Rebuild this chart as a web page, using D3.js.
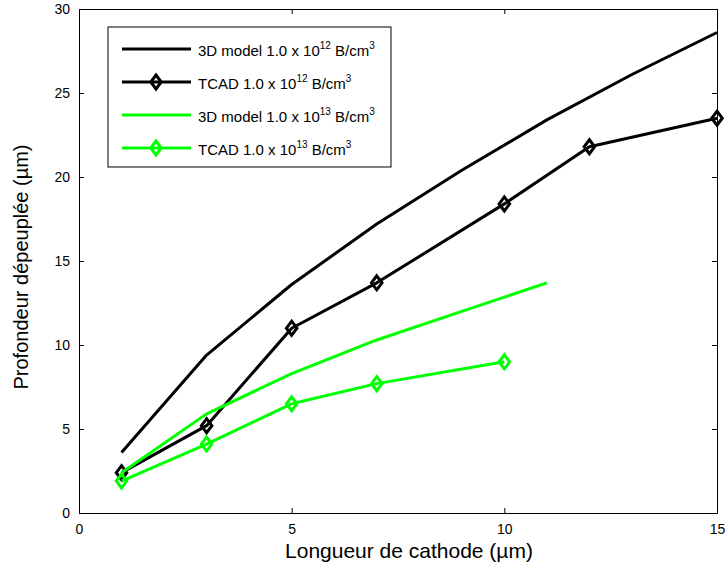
<!DOCTYPE html>
<html>
<head>
<meta charset="utf-8">
<script src="https://cdn.jsdelivr.net/npm/d3@7"></script>
<style>
  body { margin: 0; background: #fff; }
  svg text { font-family: "Liberation Sans", Arial, sans-serif; fill: #000; }
</style>
</head>
<body>
<svg id="chart" width="726" height="570"></svg>
<script>
// data
const model12X = [1, 3, 5, 7, 9, 11, 13, 15];
const model12Y = [3.6, 9.4, 13.6, 17.2, 20.4, 23.4, 26.1, 28.6];
const tcad12X = [1, 3, 5, 7, 10, 12, 15];
const tcad12Y = [2.4, 5.2, 11.0, 13.7, 18.4, 21.8, 23.5];
const model13X = [1, 3, 5, 7, 9, 11];
const model13Y = [2.4, 5.9, 8.3, 10.3, 12.0, 13.7];
const tcad13X = [1, 3, 5, 7, 10];
const tcad13Y = [1.9, 4.1, 6.5, 7.7, 9.0];
const xTicks = [0, 5, 10, 15];
const yTicks = [0, 5, 10, 15, 20, 25, 30];

const black = '#000', green = '#00ff00';
const series = [
  { name: '3D model 1.0 x 10', exp: '12', xs: model12X, ys: model12Y, color: black, marker: false },
  { name: 'TCAD 1.0 x 10', exp: '12', xs: tcad12X, ys: tcad12Y, color: black, marker: true },
  { name: '3D model 1.0 x 10', exp: '13', xs: model13X, ys: model13Y, color: green, marker: false },
  { name: 'TCAD 1.0 x 10', exp: '13', xs: tcad13X, ys: tcad13Y, color: green, marker: true }
];

const margin = { left: 79, right: 9, top: 9, bottom: 57 };
const W = 726, H = 570;
const svg = d3.select('#chart');

const x = d3.scaleLinear().domain([0, 15]).range([margin.left, W - margin.right]);
const y = d3.scaleLinear().domain([0, 30]).range([H - margin.bottom, margin.top]);

// axes (matlab style: ticks inside, mirrored)
const tickLen = 5;
svg.append('g').attr('transform', `translate(0,${y(0)})`)
  .call(d3.axisBottom(x).tickValues(xTicks).tickSizeInner(-tickLen).tickSizeOuter(0).tickPadding(11))
  .call(g => g.selectAll('text').attr('font-size', 14));
svg.append('g').attr('transform', `translate(0,${y(30)})`)
  .call(d3.axisTop(x).tickValues(xTicks).tickSizeInner(-tickLen).tickSizeOuter(0).tickFormat(''));
svg.append('g').attr('transform', `translate(${x(0)},0)`)
  .call(d3.axisLeft(y).tickValues(yTicks).tickSizeInner(-tickLen).tickSizeOuter(0).tickPadding(9))
  .call(g => g.selectAll('text').attr('font-size', 14));
svg.append('g').attr('transform', `translate(${x(15)},0)`)
  .call(d3.axisRight(y).tickValues(yTicks).tickSizeInner(-tickLen).tickSizeOuter(0).tickFormat(''));
svg.selectAll('.domain').attr('stroke', '#000');
svg.selectAll('.tick line').attr('stroke', '#000');

// axis labels
svg.append('text').attr('x', 409).attr('y', 558)
  .attr('text-anchor', 'middle').attr('font-size', 21).text('Longueur de cathode (µm)');
svg.append('text').attr('transform', 'translate(28,267) rotate(-90)')
  .attr('text-anchor', 'middle').attr('font-size', 20).text('Profondeur dépeuplée (µm)');

const line = d3.line().x(d => x(d[0])).y(d => y(d[1]));
const diamond = (cx, cy, r) => `M${cx},${cy - r}L${cx + r * 0.75},${cy}L${cx},${cy + r}L${cx - r * 0.75},${cy}Z`;

series.forEach(s => {
  const pts = s.xs.map((v, i) => [v, s.ys[i]]);
  svg.append('path').attr('d', line(pts)).attr('fill', 'none')
    .attr('stroke', s.color).attr('stroke-width', 3).attr('stroke-linejoin', 'round');
  if (s.marker) {
    svg.append('g').selectAll('path').data(pts).enter().append('path')
      .attr('d', d => diamond(x(d[0]), y(d[1]), 7))
      .attr('fill', 'none').attr('stroke', s.color).attr('stroke-width', 3);
  }
});

// legend
const leg = svg.append('g');
leg.append('rect').attr('x', 108).attr('y', 27).attr('width', 283).attr('height', 140)
  .attr('fill', '#fff').attr('stroke', '#000').attr('stroke-width', 1);
series.forEach((s, i) => {
  const ly = 49 + i * 33;
  leg.append('line').attr('x1', 122).attr('x2', 191).attr('y1', ly).attr('y2', ly)
    .attr('stroke', s.color).attr('stroke-width', 3);
  if (s.marker) {
    leg.append('path').attr('d', diamond(156, ly, 7)).attr('fill', 'none')
      .attr('stroke', s.color).attr('stroke-width', 3);
  }
  const t = leg.append('text').attr('x', 198).attr('y', ly + 7).attr('font-size', 15);
  t.append('tspan').text(s.name);
  t.append('tspan').attr('dy', -7).attr('font-size', 10).text(s.exp);
  t.append('tspan').attr('dy', 7).text(' B/cm');
  t.append('tspan').attr('dy', -7).attr('font-size', 10).text('3');
});
</script>
</body>
</html>
